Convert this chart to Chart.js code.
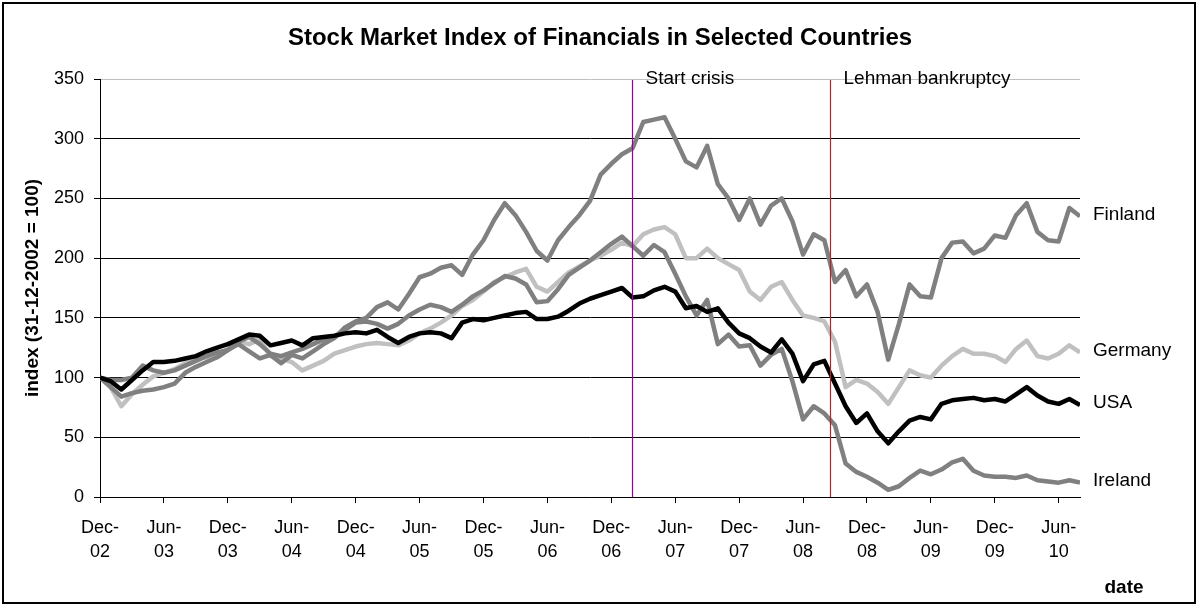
<!DOCTYPE html>
<html lang="en">
<head>
<meta charset="UTF-8">
<title>Stock Market Index of Financials in Selected Countries</title>
<script src="https://cdn.jsdelivr.net/npm/chart.js@4"></script>
<style>
  html, body { margin: 0; padding: 0; background: #fff; }
</style>
</head>
<body>
<canvas id="chart" width="1198" height="606"></canvas>
<script>
// months since 31-12-2002 (one value per month end)
const months = Array.from({ length: 93 }, (_, i) => i);

const finland = [100, 98, 98, 100, 110, 106, 104, 106, 110, 114,
  118, 121, 123, 128, 122, 116, 119, 112, 119, 116,
  122, 128, 133, 142, 147, 150, 159, 163, 157, 170,
  184, 187, 192, 194, 186, 203, 215, 232, 246, 236,
  222, 206, 198, 215, 226, 236, 248, 270, 279, 287,
  292, 314, 316, 318, 300, 281, 276, 294, 262, 250,
  232, 250, 228, 244, 250, 231, 203, 220, 215, 180,
  190, 168, 178, 155, 115, 145, 178, 168, 167, 200,
  213, 214, 204, 208, 219, 217, 236, 246, 222, 215,
  214, 242, 235];

const germany = [100, 92, 76, 86, 94, 101, 104, 107, 112, 116,
  117, 119, 124, 130, 128, 132, 118, 116, 113, 106,
  110, 114, 120, 123, 126, 128, 129, 128, 127, 131,
  137, 141, 146, 152, 160, 165, 172, 180, 184, 188,
  191, 176, 172, 180, 188, 193, 198, 202, 207, 213,
  210, 220, 224, 226, 220, 200, 200, 208, 200, 195,
  190, 172, 165, 176, 180, 165, 152, 150, 147, 130,
  92, 98, 95, 88, 78, 92, 106, 102, 100, 110,
  118, 124, 120, 120, 118, 113, 124, 131, 118, 116,
  120, 127, 121];

const usa = [100, 97, 90, 98, 106, 113, 113, 114, 116, 118,
  122, 125, 128, 132, 136, 135, 127, 129, 131, 127,
  133, 134, 135, 137, 138, 137, 140, 134, 129, 134,
  137, 138, 137, 133, 146, 149, 148, 150, 152, 154,
  155, 149, 149, 151, 156, 162, 166, 169, 172, 175,
  167, 168, 173, 176, 172, 158, 160, 155, 158, 146,
  137, 133, 126, 121, 132, 120, 97, 111, 114, 95,
  76, 62, 70, 55, 45, 55, 64, 67, 65, 78,
  81, 82, 83, 81, 82, 80, 86, 92, 85, 80,
  78, 82, 77];

const ireland = [100, 92, 84, 87, 89, 90, 92, 95, 104, 109,
  113, 117, 123, 130, 134, 128, 120, 118, 121, 124,
  128, 132, 134, 140, 146, 147, 145, 141, 145, 152,
  157, 161, 159, 155, 161, 168, 173, 179, 185, 183,
  178, 163, 164, 174, 186, 192, 198, 205, 212, 218,
  210, 202, 211, 205, 187, 168, 152, 165, 128, 136,
  126, 127, 110, 119, 124, 97, 65, 76, 70, 60,
  28, 21, 17, 12, 6, 9, 16, 22, 19, 23,
  29, 32, 22, 18, 17, 17, 16, 18, 14, 13,
  12, 14, 12];

const tickMonths = [0, 6, 12, 18, 24, 30, 36, 42, 48, 54, 60, 66, 72, 78, 84, 90];
const tickTop = ['Dec-', 'Jun-', 'Dec-', 'Jun-', 'Dec-', 'Jun-', 'Dec-', 'Jun-',
  'Dec-', 'Jun-', 'Dec-', 'Jun-', 'Dec-', 'Jun-', 'Dec-', 'Jun-'];
const tickBottom = ['02', '03', '03', '04', '04', '05', '05', '06',
  '06', '07', '07', '08', '08', '09', '09', '10'];

const eventMonths = [49.9, 68.5];
const eventLabels = ['Start crisis', 'Lehman bankruptcy'];

const chartTitle = 'Stock Market Index of Financials in Selected Countries';

const FONT = "'Liberation Sans', Arial, sans-serif";

function pts(values) {
  return values.map((v, i) => ({ x: months[i], y: v }));
}

// title, vertical event lines, series names at line ends, 'date' and frame
const extras = {
  id: 'extras',
  afterDatasetsDraw(chart) {
    const ctx = chart.ctx;
    const area = chart.chartArea;
    const xs = chart.scales.x;
    const lineColors = ['#990099', '#a52a2a'];
    ctx.save();

    ctx.fillStyle = '#000';
    ctx.font = 'bold 24px ' + FONT;
    ctx.textAlign = 'center';
    ctx.textBaseline = 'middle';
    ctx.fillText(chartTitle, 600, 38);

    eventMonths.forEach((m, i) => {
      const px = Math.round(xs.getPixelForValue(m)) + 0.5;
      ctx.strokeStyle = lineColors[i];
      ctx.lineWidth = 1.2;
      ctx.beginPath();
      ctx.moveTo(px, area.top + 1);
      ctx.lineTo(px, area.bottom);
      ctx.stroke();
      ctx.fillStyle = '#000';
      ctx.font = '19px ' + FONT;
      ctx.textAlign = 'left';
      ctx.textBaseline = 'middle';
      ctx.fillText(eventLabels[i], px + 13, area.top);
    });

    chart.data.datasets.forEach((ds, i) => {
      const meta = chart.getDatasetMeta(i);
      const last = meta.data[meta.data.length - 1];
      ctx.fillStyle = '#000';
      ctx.font = '19px ' + FONT;
      ctx.textAlign = 'left';
      ctx.textBaseline = 'middle';
      ctx.fillText(ds.label, last.x + 13, last.y - 2);
    });

    ctx.font = 'bold 19px ' + FONT;
    ctx.textAlign = 'center';
    ctx.fillText('date', 1124, 588);

    ctx.strokeStyle = '#000';
    ctx.lineWidth = 2;
    ctx.strokeRect(3, 3, 1192, 600);
    ctx.restore();
  }
};

new Chart(document.getElementById('chart'), {
  type: 'line',
  data: {
    datasets: [
      { label: 'USA', data: pts(usa), borderColor: '#000000', order: 0 },
      { label: 'Ireland', data: pts(ireland), borderColor: '#808080', order: 1 },
      { label: 'Finland', data: pts(finland), borderColor: '#808080', order: 2 },
      { label: 'Germany', data: pts(germany), borderColor: '#c0c0c0', order: 3 }
    ]
  },
  options: {
    responsive: false,
    animation: false,
    parsing: false,
    datasets: {
      line: { borderWidth: 4.5, pointRadius: 0, tension: 0, borderJoinStyle: 'round', fill: false }
    },
    layout: { padding: { left: 0, right: 118, top: 79, bottom: 0 } },
    plugins: {
      legend: { display: false },
      tooltip: { enabled: false },
      title: { display: false }
    },
    scales: {
      x: {
        type: 'linear',
        min: 0,
        max: 92,
        afterFit(scale) { scale.height = 109; },
        afterBuildTicks(scale) { scale.ticks = tickMonths.map(v => ({ value: v })); },
        grid: { drawOnChartArea: false, drawTicks: true, tickLength: 6, tickColor: '#000' },
        border: { display: true, color: '#000', width: 1 },
        ticks: {
          autoSkip: false,
          maxRotation: 0,
          padding: 13,
          color: '#000',
          font: { family: FONT, size: 18, lineHeight: 1.3333 },
          callback(value) {
            const i = tickMonths.indexOf(value);
            return i < 0 ? '' : [tickTop[i], tickBottom[i]];
          }
        }
      },
      y: {
        min: 0,
        max: 350,
        afterFit(scale) { scale.width = 100; },
        grid: {
          color: (c) => (c.tick && c.tick.value === 350 ? '#c0c0c0' : '#000'),
          lineWidth: 1,
          tickLength: 6,
          tickColor: '#000'
        },
        border: { display: true, color: '#000', width: 1 },
        ticks: {
          stepSize: 50,
          padding: 10,
          color: '#000',
          font: { family: FONT, size: 18 }
        },
        title: {
          display: true,
          text: 'index (31-12-2002 = 100)',
          color: '#000',
          font: { family: FONT, size: 19, weight: 'bold' },
          padding: { top: 21, bottom: 0 }
        }
      }
    }
  },
  plugins: [extras]
});
</script>
</body>
</html>
